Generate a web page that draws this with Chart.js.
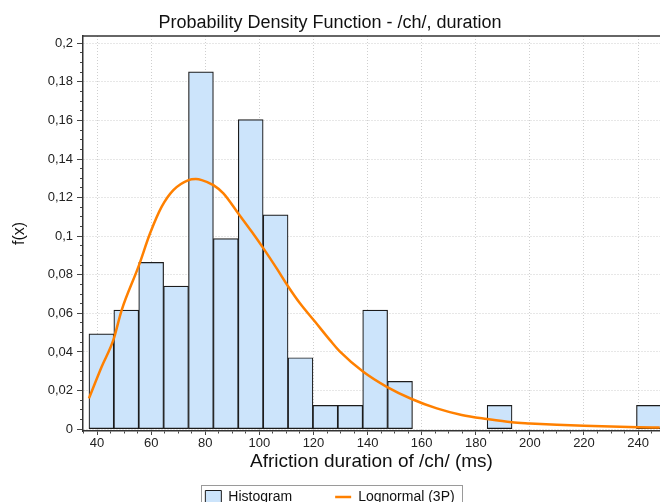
<!DOCTYPE html>
<html>
<head>
<meta charset="utf-8">
<script src="https://cdn.jsdelivr.net/npm/chart.js@4.4.1/dist/chart.umd.min.js"></script>
<style>
  html, body { margin: 0; padding: 0; background: #fff; }
  #wrap { width: 660px; height: 502px; }
</style>
</head>
<body>
<div id="wrap"><canvas id="pdfChart"></canvas></div>
<script>
// histogram bins (centre of each bin, ms) and the relative frequency of each bin
const binCenters = [41.6, 50.8, 60.0, 69.2, 78.4, 87.6, 96.8, 106.0, 115.2, 124.4, 133.6, 142.8,
                    152.0, 161.2, 170.4, 179.6, 188.8, 198.0, 207.2, 216.4, 225.6, 234.8, 244.0];
const histValues = [0.0494, 0.0617, 0.0864, 0.0741, 0.1852, 0.0988, 0.1605, 0.1111, 0.0370, 0.0123, 0.0123, 0.0617,
                    0.0247, 0, 0, 0, 0.0123, 0, 0, 0, 0, 0, 0.0123];

// fitted lognormal (3P) curve
const curveX = [37.0, 41.7, 46.0, 49.1, 55.3, 59.6, 63.9, 68.2, 73.8, 76.5, 78.7, 83.0, 86.7, 92.2, 97.2, 101.5,
                106.4, 110.7, 115.0, 120.6, 126.1, 129.8, 138.4, 147.1, 156.3, 165.6, 174.8, 184.1, 193.3,
                200, 210, 220, 230, 240, 248];
const curveY = [0.0159, 0.0323, 0.0461, 0.0617, 0.0842, 0.1015, 0.1153, 0.1239, 0.1291, 0.1296, 0.1291, 0.1265,
                0.1222, 0.1118, 0.1023, 0.0937, 0.0833, 0.0738, 0.0652, 0.0556, 0.0461, 0.0401, 0.0297, 0.0219,
                0.0156, 0.0107, 0.0073, 0.0052, 0.0035, 0.0029, 0.0022, 0.0017, 0.0013, 0.0010, 0.0008];

// labelled ticks
const xTicks = [40, 60, 80, 100, 120, 140, 160, 180, 200, 220, 240];
const yTicks = [0, 0.02, 0.04, 0.06, 0.08, 0.1, 0.12, 0.14, 0.16, 0.18, 0.2];

Chart.defaults.font.family = '"Liberation Sans", Arial, sans-serif';

function isMajor(list, v) {
    return list.some(t => Math.abs(t - v) < 1e-6);
}

// top border of the plot and the frame round the legend
const framePlugin = {
    id: 'frame',
    afterDraw(chart) {
        const ctx = chart.ctx;
        const area = chart.chartArea;
        ctx.save();
        ctx.strokeStyle = '#333';
        ctx.lineWidth = 1.5;
        ctx.beginPath();
        ctx.moveTo(area.left, area.top);
        ctx.lineTo(area.right, area.top);
        ctx.stroke();

        const boxes = chart.legend.legendHitBoxes;
        if (boxes && boxes.length) {
            const first = boxes[0];
            const last = boxes[boxes.length - 1];
            ctx.strokeStyle = '#9a9a9a';
            ctx.lineWidth = 1;
            ctx.strokeRect(Math.round(first.left - 4) + 0.5, Math.round(first.top - 5) + 0.5,
                Math.round(last.left + last.width - first.left + 12), 40);
        }
        ctx.restore();
    }
};

new Chart(document.getElementById('pdfChart'), {
    type: 'bar',
    data: {
        datasets: [{
            type: 'bar',
            label: 'Histogram',
            data: binCenters.map((x, i) => ({ x: x, y: histValues[i] })),
            backgroundColor: '#cce4fb',
            borderColor: '#1c1c1c',
            borderWidth: 1.2,
            borderSkipped: false,
            barThickness: 'flex',
            barPercentage: 1,
            categoryPercentage: 1,
            order: 1
        }, {
            type: 'line',
            label: 'Lognormal (3P)',
            data: curveX.map((x, i) => ({ x: x, y: curveY[i] })),
            borderColor: '#ff8000',
            borderWidth: 2.5,
            pointRadius: 0,
            fill: false,
            cubicInterpolationMode: 'monotone',
            order: 0
        }]
    },
    options: {
        responsive: true,
        maintainAspectRatio: false,
        animation: false,
        events: [],
        layout: {
            autoPadding: false,
            padding: { top: 0, left: 0, right: 0, bottom: -12 }
        },
        plugins: {
            title: {
                display: true,
                text: 'Probability Density Function - /ch/, duration',
                color: '#111',
                font: { size: 18, weight: 'normal' },
                padding: { top: 12, bottom: 2.4 }
            },
            legend: {
                position: 'bottom',
                labels: {
                    color: '#111',
                    font: { size: 14 },
                    usePointStyle: true,
                    pointStyleWidth: 16,
                    boxWidth: 16,
                    boxHeight: 13,
                    padding: 43,
                    generateLabels: chart => chart.data.datasets.map((ds, i) => ({
                        text: ds.label,
                        datasetIndex: i,
                        hidden: false,
                        fontColor: '#111',
                        fillStyle: ds.type === 'line' ? ds.borderColor : ds.backgroundColor,
                        strokeStyle: ds.borderColor,
                        lineWidth: ds.type === 'line' ? 2.5 : 1,
                        pointStyle: ds.type === 'line' ? 'line' : 'rect'
                    }))
                }
            },
            tooltip: { enabled: false }
        },
        scales: {
            x: {
                type: 'linear',
                min: 34.8,
                max: 248.1,
                offset: false,
                afterBuildTicks(axis) {
                    const ticks = [];
                    for (let v = 35; v <= 245; v += 5) ticks.push({ value: v });
                    axis.ticks = ticks;
                },
                afterFit(scale) { scale.height = 16; },
                ticks: {
                    autoSkip: false,
                    maxRotation: 0,
                    color: '#222',
                    font: { size: 13 },
                    padding: 1,
                    callback: v => isMajor(xTicks, v) ? String(v) : ''
                },
                grid: {
                    offset: false,
                    color: c => c.tick && isMajor(xTicks, c.tick.value) ? '#cfcfcf' : 'transparent',
                    lineWidth: 1,
                    tickLength: 4,
                    tickWidth: 1,
                    tickColor: '#444',
                    tickBorderDash: c => c.tick && isMajor(xTicks, c.tick.value) ? [] : [2, 10]
                },
                border: { color: '#333', width: 1.5, dash: [1, 2] },
                title: {
                    display: true,
                    text: 'Afriction duration of /ch/ (ms)',
                    color: '#111',
                    font: { size: 19 },
                    padding: { top: 0, bottom: -26.4 }
                }
            },
            y: {
                min: -0.001,
                max: 0.2038,
                afterBuildTicks(axis) {
                    const ticks = [];
                    for (let i = 0; i <= 40; i++) ticks.push({ value: Math.round(i * 5) / 1000 });
                    axis.ticks = ticks;
                },
                afterFit(scale) { scale.width = 83; },
                ticks: {
                    autoSkip: false,
                    color: '#222',
                    font: { size: 13 },
                    padding: 4,
                    callback: v => isMajor(yTicks, v) ? String(+v.toFixed(2)).replace('.', ',') : ''
                },
                grid: {
                    color: c => c.tick && isMajor(yTicks, c.tick.value) ? '#cfcfcf' : 'transparent',
                    lineWidth: 1,
                    tickLength: 6,
                    tickWidth: 1,
                    tickColor: '#444',
                    tickBorderDash: c => c.tick && isMajor(yTicks, c.tick.value) ? [] : [3, 3],
                    tickBorderDashOffset: c => c.tick && isMajor(yTicks, c.tick.value) ? 0 : 3
                },
                border: { color: '#333', width: 1.5, dash: [1, 2] },
                title: {
                    display: true,
                    text: 'f(x)',
                    color: '#111',
                    font: { size: 16 },
                    padding: { top: 10, bottom: 0 }
                }
            }
        }
    },
    plugins: [framePlugin]
});
</script>
</body>
</html>
